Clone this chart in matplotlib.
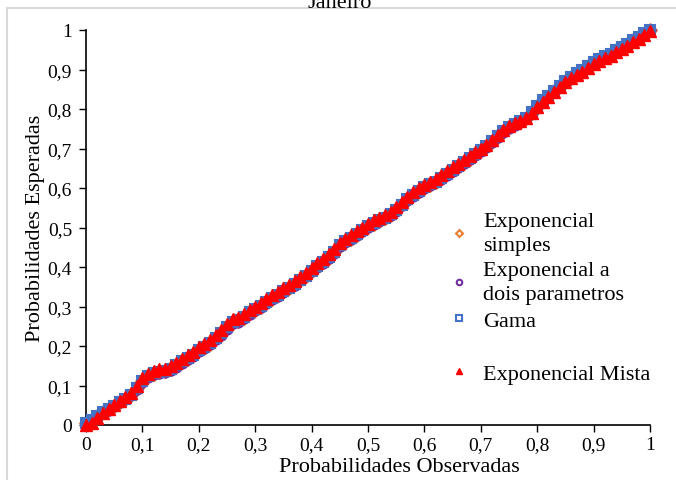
import matplotlib.pyplot as plt
from matplotlib.lines import Line2D
from matplotlib.patches import Rectangle

plt.rcParams['font.family'] = ['Liberation Serif', 'DejaVu Serif']

# observed probabilities (x) and expected probabilities per distribution (y)
observed = [0.00, 0.01, 0.02, 0.03, 0.04, 0.05, 0.06, 0.07, 0.08, 0.09,
            0.10, 0.11, 0.12, 0.13, 0.14, 0.15, 0.16, 0.17, 0.18, 0.19,
            0.20, 0.21, 0.22, 0.23, 0.24, 0.25, 0.26, 0.27, 0.28, 0.29,
            0.30, 0.31, 0.32, 0.33, 0.34, 0.35, 0.36, 0.37, 0.38, 0.39,
            0.40, 0.41, 0.42, 0.43, 0.44, 0.45, 0.46, 0.47, 0.48, 0.49,
            0.50, 0.51, 0.52, 0.53, 0.54, 0.55, 0.56, 0.57, 0.58, 0.59,
            0.60, 0.61, 0.62, 0.63, 0.64, 0.65, 0.66, 0.67, 0.68, 0.69,
            0.70, 0.71, 0.72, 0.73, 0.74, 0.75, 0.76, 0.77, 0.78, 0.79,
            0.80, 0.81, 0.82, 0.83, 0.84, 0.85, 0.86, 0.87, 0.88, 0.89,
            0.90, 0.91, 0.92, 0.93, 0.94, 0.95, 0.96, 0.97, 0.98, 0.99, 1.00]

mista = [0.000, 0.005, 0.018, 0.030, 0.040, 0.050, 0.060, 0.070, 0.080, 0.100,
         0.118, 0.130, 0.137, 0.141, 0.143, 0.150, 0.158, 0.168, 0.176, 0.185,
         0.198, 0.205, 0.215, 0.228, 0.240, 0.255, 0.268, 0.272, 0.280, 0.292,
         0.300, 0.308, 0.318, 0.328, 0.336, 0.346, 0.355, 0.364, 0.375, 0.385,
         0.398, 0.410, 0.420, 0.432, 0.445, 0.462, 0.472, 0.480, 0.490, 0.500,
         0.510, 0.518, 0.525, 0.532, 0.540, 0.552, 0.565, 0.578, 0.590, 0.600,
         0.608, 0.615, 0.622, 0.632, 0.642, 0.652, 0.660, 0.670, 0.680, 0.690,
         0.700, 0.710, 0.722, 0.735, 0.748, 0.758, 0.764, 0.770, 0.778, 0.790,
         0.805, 0.818, 0.830, 0.842, 0.855, 0.868, 0.878, 0.886, 0.893, 0.905,
         0.915, 0.922, 0.928, 0.935, 0.945, 0.952, 0.960, 0.970, 0.978, 0.988, 0.997]

gama = [0.004, 0.012, 0.022, 0.032, 0.040, 0.049, 0.058, 0.067, 0.076, 0.094,
        0.112, 0.124, 0.131, 0.135, 0.137, 0.143, 0.151, 0.161, 0.169, 0.178,
        0.190, 0.197, 0.207, 0.220, 0.232, 0.247, 0.260, 0.265, 0.273, 0.285,
        0.293, 0.301, 0.311, 0.321, 0.329, 0.339, 0.348, 0.357, 0.368, 0.378,
        0.391, 0.403, 0.413, 0.425, 0.438, 0.455, 0.465, 0.473, 0.483, 0.493,
        0.503, 0.511, 0.518, 0.525, 0.533, 0.545, 0.558, 0.571, 0.583, 0.593,
        0.602, 0.609, 0.616, 0.626, 0.636, 0.646, 0.655, 0.665, 0.675, 0.685,
        0.696, 0.706, 0.718, 0.731, 0.744, 0.755, 0.762, 0.769, 0.778, 0.792,
        0.808, 0.822, 0.834, 0.846, 0.859, 0.872, 0.882, 0.890, 0.898, 0.910,
        0.920, 0.927, 0.933, 0.940, 0.950, 0.957, 0.965, 0.975, 0.983, 0.992, 1.000]

dois_param = [0.003, 0.011, 0.021, 0.031, 0.039, 0.048, 0.057, 0.066, 0.075, 0.092,
              0.110, 0.121, 0.128, 0.132, 0.134, 0.140, 0.148, 0.158, 0.166, 0.175,
              0.187, 0.194, 0.204, 0.217, 0.229, 0.244, 0.257, 0.262, 0.270, 0.282,
              0.290, 0.298, 0.308, 0.318, 0.327, 0.337, 0.346, 0.355, 0.366, 0.376,
              0.389, 0.401, 0.411, 0.423, 0.436, 0.453, 0.463, 0.471, 0.481, 0.491,
              0.501, 0.509, 0.516, 0.523, 0.531, 0.543, 0.556, 0.569, 0.581, 0.591,
              0.600, 0.607, 0.614, 0.624, 0.634, 0.644, 0.653, 0.663, 0.673, 0.683,
              0.694, 0.704, 0.716, 0.729, 0.742, 0.753, 0.760, 0.767, 0.776, 0.790,
              0.806, 0.820, 0.832, 0.844, 0.857, 0.870, 0.880, 0.888, 0.896, 0.908,
              0.918, 0.925, 0.931, 0.938, 0.948, 0.955, 0.963, 0.973, 0.981, 0.990, 0.999]

simples = [0.004, 0.012, 0.022, 0.032, 0.040, 0.049, 0.058, 0.067, 0.076, 0.094,
           0.112, 0.123, 0.130, 0.134, 0.136, 0.142, 0.150, 0.160, 0.168, 0.177,
           0.189, 0.196, 0.206, 0.219, 0.231, 0.246, 0.259, 0.264, 0.272, 0.284,
           0.292, 0.300, 0.310, 0.320, 0.328, 0.338, 0.347, 0.356, 0.367, 0.377,
           0.390, 0.402, 0.412, 0.424, 0.437, 0.454, 0.464, 0.472, 0.482, 0.492,
           0.502, 0.510, 0.517, 0.524, 0.532, 0.544, 0.557, 0.570, 0.582, 0.592,
           0.601, 0.608, 0.615, 0.625, 0.635, 0.645, 0.654, 0.664, 0.674, 0.684,
           0.695, 0.705, 0.717, 0.730, 0.743, 0.754, 0.761, 0.768, 0.777, 0.791,
           0.807, 0.821, 0.833, 0.845, 0.858, 0.871, 0.881, 0.889, 0.897, 0.909,
           0.919, 0.926, 0.932, 0.939, 0.949, 0.956, 0.964, 0.974, 0.982, 0.991, 1.000]

ref_line = [0, 1]
tick_vals = [0, 0.1, 0.2, 0.3, 0.4, 0.5, 0.6, 0.7, 0.8, 0.9, 1]
tick_labels = ['0', '0,1', '0,2', '0,3', '0,4', '0,5', '0,6', '0,7', '0,8', '0,9', '1']

fig = plt.figure(figsize=(6.76, 4.81), dpi=100)

# light grey chart-area frame (cut off at right and bottom)
fig.patches.append(Rectangle((7 / 676, -0.2), 1.2, 1 - 9 / 481 + 0.2,
                             transform=fig.transFigure, fill=False,
                             edgecolor='#d9d9d9', linewidth=1.5))

fig.text(0.503, 1 - 8 / 481, 'Janeiro', ha='center', va='baseline', fontsize=16)

ax = fig.add_axes([86 / 676, 1 - 426 / 481, 564 / 676, 395 / 481])

ax.plot(ref_line, ref_line, color='black', linewidth=0.8, zorder=1)

h1, = ax.plot(observed, simples, linestyle='none', marker='D', markersize=6,
              markerfacecolor='none', markeredgecolor='#ED7D31', markeredgewidth=1.8,
              zorder=2, clip_on=False)
h2, = ax.plot(observed, dois_param, linestyle='none', marker='o', markersize=7,
              markerfacecolor='none', markeredgecolor='#7030A0', markeredgewidth=1.8,
              zorder=3, clip_on=False)
h3, = ax.plot(observed, gama, linestyle='none', marker='s', markersize=6.5,
              markerfacecolor='#4472C4', markeredgecolor='#4472C4', markeredgewidth=1.5,
              zorder=4, clip_on=False)
h4, = ax.plot(observed, mista, linestyle='none', marker='^', markersize=8.5,
              color='#FF0000', zorder=5, clip_on=False)

# legend handles (small hollow markers as in the reference)
lh1 = Line2D([], [], linestyle='none', marker='D', markersize=3.5,
             markerfacecolor='none', markeredgecolor='#ED7D31', markeredgewidth=1.5)
lh2 = Line2D([], [], linestyle='none', marker='o', markersize=4,
             markerfacecolor='none', markeredgecolor='#7030A0', markeredgewidth=1.5)
lh3 = Line2D([], [], linestyle='none', marker='s', markersize=4,
             markerfacecolor='none', markeredgecolor='#4472C4', markeredgewidth=1.5)
lh4 = Line2D([], [], linestyle='none', marker='^', markersize=4.5, color='#FF0000')
blank = Line2D([], [], linestyle='none')

ax.set_xlim(0, 1)
ax.set_ylim(0, 1)
ax.set_xticks(tick_vals)
ax.set_xticklabels(tick_labels)
ax.set_yticks(tick_vals)
ax.set_yticklabels(tick_labels)
ax.tick_params(direction='out', length=5, width=1, labelsize=14)
ax.tick_params(axis='x', pad=3)
ax.tick_params(axis='y', pad=5)
ax.spines['top'].set_visible(False)
ax.spines['right'].set_visible(False)
ax.spines['left'].set_linewidth(1.2)
ax.spines['bottom'].set_linewidth(1.2)

ax.set_xlabel('Probabilidades Observadas', fontsize=16)
ax.xaxis.set_label_coords(0.555, -0.082)
ax.set_ylabel('Probabilidades Esperadas', fontsize=16, labelpad=2)

leg = fig.legend([lh1, lh2, lh3, blank, lh4],
                 ['Exponencial\nsimples', 'Exponencial a\ndois parametros', 'Gama', ' ',
                  'Exponencial Mista'],
                 loc='upper left', bbox_to_anchor=(439 / 676, 1 - 202 / 481),
                 frameon=False, fontsize=16, labelspacing=0.27, handlelength=0.8,
                 handletextpad=0.7, borderpad=0)
for t in leg.get_texts():
    t.set_linespacing(1.36)

fig.savefig('out.png', dpi=100)
